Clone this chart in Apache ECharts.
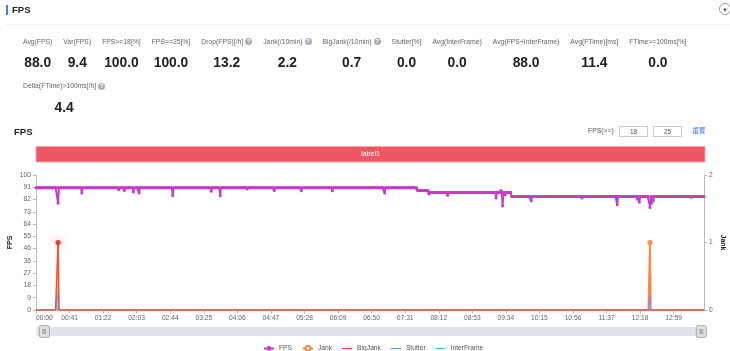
<!DOCTYPE html>
<html>
<head>
<meta charset="utf-8">
<script src="https://cdn.jsdelivr.net/npm/echarts@6/dist/echarts.min.js"></script>
<style>
  html, body { margin: 0; padding: 0; background: #fff; }
  body { width: 730px; height: 351px; overflow: hidden; position: relative;
    font-family: "Liberation Sans", Arial, "Noto Sans CJK SC", sans-serif; color: #222; }
  #chart { position: absolute; left: 0; top: 0; width: 730px; height: 351px; }
  .abs { position: absolute; z-index: 2; white-space: nowrap; }
  .bar { left: 6px; top: 5px; width: 2px; height: 10px; background: #3d7bf7; }
  .title { left: 12px; top: 4px; font-size: 9.5px; font-weight: bold; line-height: 12px; }
  .sep { left: 6px; top: 24px; width: 724px; height: 1px; background: #eef0f4; }
  .toggle { left: 719px; top: 3px; width: 12px; height: 12px; border: 1px solid #999; border-radius: 50%;
    font-size: 6px; line-height: 12px; text-align: center; color: #555; box-sizing: border-box; }
  .stats { display: flex; gap: 11px; }
  .stat { display: flex; flex-direction: column; align-items: center; }
  .lbl { font-size: 6.8px; color: #666; height: 10px; line-height: 10px; display: flex; align-items: center; }
  .val { font-size: 13.8px; font-weight: bold; color: #222; height: 16px; line-height: 16px; margin-top: 8.5px; }
  .help { display: inline-block; width: 7px; height: 7px; border-radius: 50%; background: #a9afba; color: #fff;
    font-size: 5.5px; line-height: 7px; text-align: center; margin-left: 2px; font-weight: bold; }
  .sub { left: 14px; top: 126px; font-size: 9.5px; font-weight: bold; line-height: 12px; }
  .fl { left: 588px; top: 126px; font-size: 6.8px; color: #555; line-height: 10px; }
  .box { top: 126px; width: 29px; height: 11px; border: 1px solid #ccc; box-sizing: border-box;
    font-size: 6.5px; line-height: 9px; text-align: center; color: #555; }
  .reset { left: 692px; top: 126px; font-size: 6.8px; color: #3d7bf7; line-height: 10px; }
</style>
</head>
<body>
<div id="chart"></div>

<div class="abs bar"></div>
<div class="abs title">FPS</div>
<div class="abs sep"></div>
<div class="abs toggle">▼</div>

<div class="abs stats" style="left:23px; top:36.7px;">
  <div class="stat"><div class="lbl">Avg(FPS)</div><div class="val">88.0</div></div>
  <div class="stat"><div class="lbl">Var(FPS)</div><div class="val">9.4</div></div>
  <div class="stat"><div class="lbl">FPS&gt;=18[%]</div><div class="val">100.0</div></div>
  <div class="stat"><div class="lbl">FPS&gt;=25[%]</div><div class="val">100.0</div></div>
  <div class="stat"><div class="lbl">Drop(FPS)[/h]<span class="help">?</span></div><div class="val">13.2</div></div>
  <div class="stat"><div class="lbl">Jank(/10min)<span class="help">?</span></div><div class="val">2.2</div></div>
  <div class="stat"><div class="lbl">BigJank(/10min)<span class="help">?</span></div><div class="val">0.7</div></div>
  <div class="stat"><div class="lbl">Stutter[%]</div><div class="val">0.0</div></div>
  <div class="stat"><div class="lbl">Avg(InterFrame)</div><div class="val">0.0</div></div>
  <div class="stat"><div class="lbl">Avg(FPS+InterFrame)</div><div class="val">88.0</div></div>
  <div class="stat"><div class="lbl">Avg(FTime)[ms]</div><div class="val">11.4</div></div>
  <div class="stat"><div class="lbl">FTime&gt;=100ms[%]</div><div class="val">0.0</div></div>
</div>
<div class="abs stats" style="left:23px; top:81px;">
  <div class="stat"><div class="lbl">Delta(FTime)&gt;100ms[/h]<span class="help">?</span></div><div class="val">4.4</div></div>
</div>

<div class="abs sub">FPS</div>
<div class="abs fl">FPS(&gt;=)</div>
<div class="abs box" style="left:619px;">18</div>
<div class="abs box" style="left:653px;">25</div>
<div class="abs reset">重置</div>

<script>
// seconds covered by the capture, one sample per second
const duration = 817;
// [from, to, fps] steady levels of the FPS trace
const fpsLevels = [[0, 465, 90.6], [466, 479, 88.5], [480, 580, 87], [581, 816, 84.1]];
// [second, fps] single-sample drops
const fpsDips = [[27, 79], [56, 86.7], [101, 89], [108, 88.6], [119, 87.4], [126, 86.7], [167, 84.7],
  [214, 87.9], [225, 84.7], [258, 89.6], [291, 88.6], [324, 88.4], [362, 88.4], [426, 86.7],
  [480, 85.9], [503, 85], [562, 83], [568, 88.5], [570, 77], [573, 85.4], [605, 81], [667, 83],
  [710, 78], [733, 84], [735, 82], [737, 80], [749, 80], [750, 76], [752, 79], [754, 81], [800, 83.5]];
const jankPoints = [[27, 1], [750, 1]];
const bigJankPoints = [[27, 1]];
const stutterPoints = [[27, 0.27], [750, 0.2]];
const fpsTickLabels = ["0", "9", "18", "27", "36", "46", "55", "64", "73", "82", "91", "100"];
const jankTickLabels = ["0", "1", "2"];

function pad(n) { return n < 10 ? "0" + n : "" + n; }
const categories = [];
for (let s = 0; s < duration; s++) categories.push(pad(Math.floor(s / 60)) + ":" + pad(s % 60));

function zeros() { return new Array(duration).fill(0); }
const fpsData = zeros();
fpsLevels.forEach(([a, b, v]) => { for (let i = a; i <= b; i++) fpsData[i] = v; });
fpsDips.forEach(([t, v]) => { fpsData[t] = v; });
const jankData = zeros();
jankPoints.forEach(([t, v]) => { jankData[t] = v; });
const bigJankData = zeros();
bigJankPoints.forEach(([t, v]) => {
  bigJankData[t] = { value: v, symbol: "circle", symbolSize: 5,
    itemStyle: { color: "#e8403a", shadowBlur: 8, shadowColor: "rgba(240,90,90,0.9)" } };
});
const stutterData = zeros();
stutterPoints.forEach(([t, v]) => { stutterData[t] = v; });
const interFrameData = zeros();

const fpsStep = 100 / 11;
const axisText = { color: "#666", fontSize: 6.7 };
// thin line legend icon (tiny corner dots keep the box from stretching it)
const lineIcon = "path://M0,0h0.01v0.01h-0.01zM0,2.6h10v1h-10zM0,6h0.01v0.01h-0.01z";

let myChart = echarts.init(document.getElementById("chart"));
myChart.setOption({
  animation: false,
  backgroundColor: "transparent",
  textStyle: { fontFamily: "Liberation Sans, Arial, sans-serif" },
  graphic: [
    { type: "rect", z: 0, shape: { x: 36, y: 146.5, width: 669, height: 15.5 },
      style: { fill: "#ee5664", stroke: "#f5a5ad", lineWidth: 1 } },
    { type: "text", z: 1, x: 370.5, y: 154.5,
      style: { text: "label1", fill: "#fff", fontSize: 7, align: "center", verticalAlign: "middle",
        fontFamily: "Liberation Sans, Arial, sans-serif" } },
    { type: "rect", z: -1, shape: { x: 36.5, y: 327, width: 668.5, height: 9 },
      style: { fill: "#dfe2e9" } },
  ],
  grid: { left: 36, right: 26, top: 175, bottom: 41, outerBoundsMode: "none", containLabel: false },
  legend: {
    left: 258, top: 340, itemWidth: 10, itemHeight: 6, itemGap: 10,
    textStyle: { color: "#555", fontSize: 6.7 },
    data: [
      { name: "FPS" },
      { name: "Jank" },
      { name: "BigJank", icon: lineIcon },
      { name: "Stutter", icon: lineIcon },
      { name: "InterFrame", icon: lineIcon },
    ],
  },
  xAxis: {
    type: "category",
    data: categories,
    boundaryGap: false,
    axisLine: { lineStyle: { color: "#bbb" } },
    axisTick: { interval: 40, length: 3.5, lineStyle: { color: "#bbb" } },
    axisLabel: Object.assign({ interval: 40, margin: 5, alignMinLabel: "left" }, axisText),
  },
  yAxis: [{
    type: "value",
    name: "FPS",
    nameLocation: "middle",
    nameRotate: 90,
    nameGap: 22,
    nameMoveOverlap: false,
    nameTextStyle: { color: "#222", fontSize: 7, fontWeight: "bold" },
    min: 0,
    max: 100,
    interval: fpsStep,
    splitLine: { show: false },
    axisLine: { show: true, lineStyle: { color: "#bbb" } },
    axisTick: { show: true, length: 3, lineStyle: { color: "#bbb" } },
    axisLabel: Object.assign({ margin: 5,
      formatter: (v) => fpsTickLabels[Math.round(v / fpsStep)] }, axisText),
  }, {
    type: "value",
    name: "Jank",
    nameLocation: "middle",
    nameRotate: -90,
    nameGap: 15,
    nameMoveOverlap: false,
    nameTextStyle: { color: "#222", fontSize: 7, fontWeight: "bold" },
    min: 0,
    max: 2,
    interval: 1,
    position: "right",
    splitLine: { show: false },
    axisLine: { show: true, lineStyle: { color: "#bbb" } },
    axisTick: { show: true, length: 3, lineStyle: { color: "#bbb" } },
    axisLabel: Object.assign({ margin: 5, formatter: (v) => jankTickLabels[Math.round(v)] }, axisText),
  }],
  dataZoom: [{
    type: "slider",
    xAxisIndex: 0,
    start: 0,
    end: 100,
    left: 42,
    right: 29,
    top: 327,
    height: 9,
    showDetail: false,
    showDataShadow: false,
    brushSelect: false,
    moveHandleSize: 0,
    backgroundColor: "#dfe2e9",
    borderColor: "transparent",
    fillerColor: "rgba(0,0,0,0)",
    handleIcon: "path://M2,0h8a2,2,0,0,1,2,2v10a2,2,0,0,1,-2,2h-8a2,2,0,0,1,-2,-2v-10a2,2,0,0,1,2,-2zM4,4.5h4v1h-4zM4,6.5h4v1h-4zM4,8.5h4v1h-4z",
    handleSize: "130%",
    handleStyle: { color: "#e2e2e2", borderColor: "#a8a8a8" },
  }],
  series: [{
    name: "FPS",
    type: "line",
    yAxisIndex: 0,
    data: fpsData,
    symbol: "circle",
    symbolSize: 3,
    showAllSymbol: true,
    z: 3,
    itemStyle: { color: "#c43fc6" },
    lineStyle: { width: 2, color: "#c43fc6" },
  }, {
    name: "Jank",
    type: "line",
    yAxisIndex: 1,
    data: jankData,
    symbol: "emptyCircle",
    symbolSize: (v) => (v > 0 ? 3 : 0),
    showAllSymbol: true,
    z: 2,
    itemStyle: { color: "#ff8542" },
    lineStyle: { width: 1.8, color: "#ff8542" },
    areaStyle: { color: "rgba(255,160,110,0.45)" },
  }, {
    name: "BigJank",
    type: "line",
    yAxisIndex: 1,
    data: bigJankData,
    symbol: "none",
    showAllSymbol: true,
    z: 4,
    itemStyle: { color: "#e8403a" },
    lineStyle: { width: 0.8, color: "#e8403a" },
  }, {
    name: "Stutter",
    type: "line",
    yAxisIndex: 1,
    data: stutterData,
    symbol: "none",
    z: 3,
    itemStyle: { color: "#5b8ff9" },
    lineStyle: { width: 0.8, color: "#5b8ff9" },
    areaStyle: { color: "rgba(120,160,250,0.6)" },
  }, {
    name: "InterFrame",
    type: "line",
    yAxisIndex: 1,
    data: interFrameData,
    symbol: "none",
    z: 1,
    itemStyle: { color: "#3fc5e6" },
    lineStyle: { width: 1, color: "#3fc5e6" },
  }],
});
</script>
</body>
</html>
